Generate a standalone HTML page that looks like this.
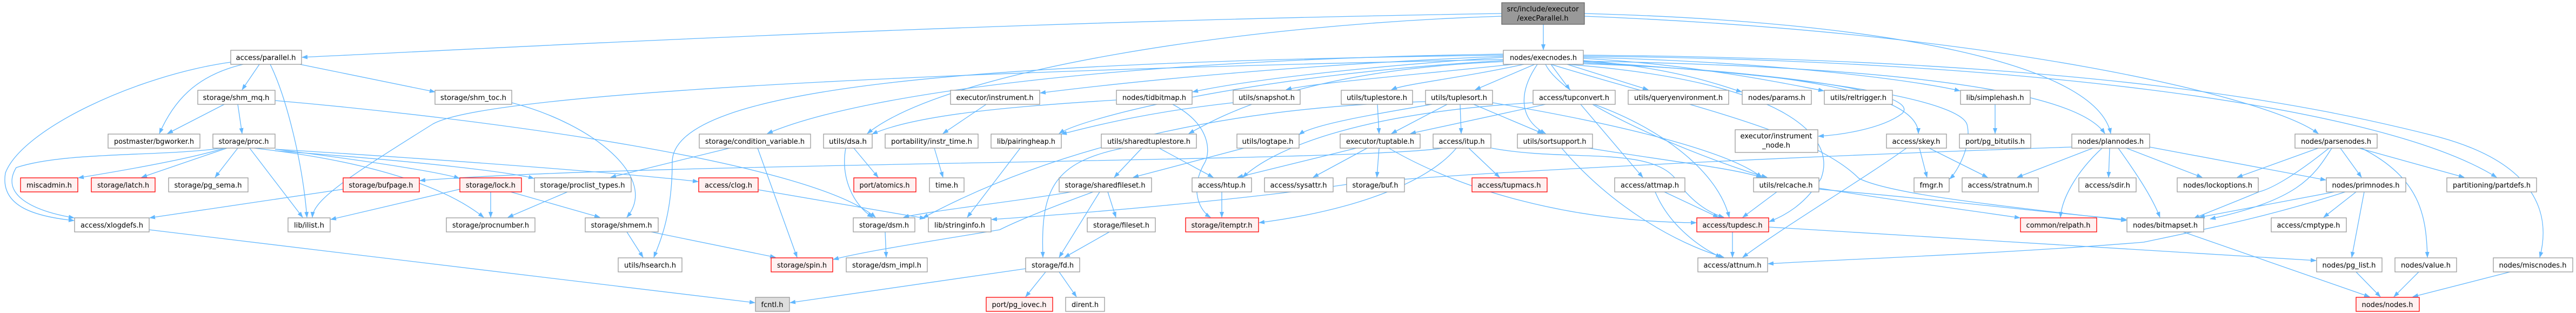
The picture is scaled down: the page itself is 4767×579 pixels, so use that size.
<!DOCTYPE html>
<html><head><meta charset="utf-8"><style>
html,body{margin:0;padding:0;background:#fff;}
svg{display:block}
text{font-family:"DejaVu Sans","Liberation Sans",sans-serif;font-size:13px;fill:#000}
.n{fill:#fff;stroke:#999;stroke-width:1.3}
.r{fill:#fff0f0;stroke:#ff0000;stroke-width:1.3}
.e path{fill:none;stroke:#63b8ff;stroke-width:1.3}
</style></head><body>
<svg width="4767" height="579" viewBox="0 0 4767 579" xmlns="http://www.w3.org/2000/svg">
<defs><marker id="a" markerUnits="userSpaceOnUse" markerWidth="11" markerHeight="8" refX="10" refY="4" orient="auto"><path d="M0,0 L11,4 L0,8 z" fill="#63b8ff"/></marker></defs>
<g class="e" marker-end="url(#a)">
<path marker-end="url(#a)" d="M2856 45 L2856 92"/>
<path marker-end="url(#a)" d="M2779 25 C1800 40 900 90 559 106"/>
<path marker-end="url(#a)" d="M2779 30 C2300 45 1750 130 1605 247"/>
<path marker-end="url(#a)" d="M2932 25 C3500 40 3880 120 3906 247"/>
<path marker-end="url(#a)" d="M2932 30 C3700 60 4200 180 4290 247"/>
<path marker-end="url(#a)" d="M2782 104 C2400 120 2100 150 1925 172"/>
<path marker-end="url(#a)" d="M2782 106 C2500 125 2300 150 2207 170"/>
<path marker-end="url(#a)" d="M2800 119 C2600 140 2420 155 2380 166"/>
<path marker-end="url(#a)" d="M2820 119 C2700 145 2600 155 2575 166"/>
<path marker-end="url(#a)" d="M2840 119 L2730 166"/>
<path marker-end="url(#a)" d="M2870 119 L2905 166"/>
<path marker-end="url(#a)" d="M2900 119 L3050 166"/>
<path marker-end="url(#a)" d="M2930 112 C3100 125 3190 160 3223 170"/>
<path marker-end="url(#a)" d="M2930 108 C3150 120 3330 160 3375 168"/>
<path marker-end="url(#a)" d="M2930 106 C3300 115 3550 150 3627 168"/>
<path marker-end="url(#a)" d="M2845 119 C2810 170 2810 220 2860 247"/>
<path marker-end="url(#a)" d="M2782 100 C2100 110 1600 170 1420 247"/>
<path marker-end="url(#a)" d="M2782 102 C1800 115 1244 160 1244 300 C1244 400 1220 450 1210 476"/>
<path marker-end="url(#a)" d="M2782 110 C1800 130 900 170 800 230 C640 330 580 370 578 402"/>
<path marker-end="url(#a)" d="M2782 112 C2300 140 2000 220 1960 247"/>
<path marker-end="url(#a)" d="M2782 114 C2400 130 2250 220 2200 247"/>
<path marker-end="url(#a)" d="M2930 114 C3500 150 3630 200 3640 230 C3650 270 3620 320 3608 331"/>
<path marker-end="url(#a)" d="M2930 116 C3400 140 3550 180 3520 210 C3480 240 3400 250 3365 252"/>
<path marker-end="url(#a)" d="M2930 118 C3300 130 3550 170 3550 247"/>
<path marker-end="url(#a)" d="M2930 113 C3600 125 3850 180 3895 247"/>
<path marker-end="url(#a)" d="M2930 104 C3700 110 4400 190 4620 328"/>
<path marker-end="url(#a)" d="M2930 102 C3900 110 4300 200 4500 250 C4700 300 4720 400 4700 476"/>
<path marker-end="url(#a)" d="M2900 119 C3300 150 3400 250 3370 330 C3340 380 3300 400 3274 410"/>
<path marker-end="url(#a)" d="M2860 119 C2900 200 3200 310 3270 328"/>
<path marker-end="url(#a)" d="M2870 119 C3100 190 3350 240 3440 330 C3500 360 3700 380 3935 408"/>
<path marker-end="url(#a)" d="M2650 193 C2550 210 2430 230 2404 249"/>
<path marker-end="url(#a)" d="M480 119 L448 166"/>
<path marker-end="url(#a)" d="M450 119 C360 140 320 190 295 247"/>
<path marker-end="url(#a)" d="M427 115 C250 140 40 240 10 320 C0 380 60 400 137 408"/>
<path marker-end="url(#a)" d="M500 119 C530 180 560 300 568 402"/>
<path marker-end="url(#a)" d="M555 119 L805 170"/>
<path marker-end="url(#a)" d="M415 193 L310 247"/>
<path marker-end="url(#a)" d="M440 193 L448 247"/>
<path marker-end="url(#a)" d="M509 186 C900 220 1500 300 1620 402"/>
<path marker-end="url(#a)" d="M415 274 C350 295 200 320 145 329"/>
<path marker-end="url(#a)" d="M420 274 L262 328"/>
<path marker-end="url(#a)" d="M440 274 L398 328"/>
<path marker-end="url(#a)" d="M462 274 L560 402"/>
<path marker-end="url(#a)" d="M410 274 C300 290 120 280 30 310 C0 360 60 390 137 403"/>
<path marker-end="url(#a)" d="M509 276 C700 300 820 320 850 330"/>
<path marker-end="url(#a)" d="M509 279 C800 300 950 320 988 330"/>
<path marker-end="url(#a)" d="M470 274 C700 300 830 350 895 402"/>
<path marker-end="url(#a)" d="M509 276 C900 300 1200 325 1292 336"/>
<path marker-end="url(#a)" d="M1403 351 L1712 404"/>
<path marker-end="url(#a)" d="M908 355 L908 402"/>
<path marker-end="url(#a)" d="M945 355 L1110 402"/>
<path marker-end="url(#a)" d="M851 350 L612 406"/>
<path marker-end="url(#a)" d="M1050 355 L940 402"/>
<path marker-end="url(#a)" d="M947 190 C1100 230 1220 330 1160 402"/>
<path marker-end="url(#a)" d="M1160 429 L1190 476"/>
<path marker-end="url(#a)" d="M1205 429 L1435 476"/>
<path marker-end="url(#a)" d="M1350 274 L1130 328"/>
<path marker-end="url(#a)" d="M1402 274 L1475 476"/>
<path marker-end="url(#a)" d="M1565 274 C1555 330 1580 380 1615 402"/>
<path marker-end="url(#a)" d="M1580 274 L1625 328"/>
<path marker-end="url(#a)" d="M1638 429 L1640 476"/>
<path marker-end="url(#a)" d="M635 350 L277 403"/>
<path marker-end="url(#a)" d="M276 425 L1397 560"/>
<path marker-end="url(#a)" d="M1898 497 L1462 560"/>
<path marker-end="url(#a)" d="M1935 503 L1898 549"/>
<path marker-end="url(#a)" d="M1960 503 L1992 549"/>
<path marker-end="url(#a)" d="M1825 193 L1745 247"/>
<path marker-end="url(#a)" d="M1729 274 L1745 328"/>
<path marker-end="url(#a)" d="M1888 274 L1790 402"/>
<path marker-end="url(#a)" d="M2282 190 C2100 210 2000 240 1964 248"/>
<path marker-end="url(#a)" d="M2066 185 C1900 195 1700 210 1614 248"/>
<path marker-end="url(#a)" d="M2170 193 C2240 230 2240 280 2230 300 C2200 350 2220 390 2240 402"/>
<path marker-end="url(#a)" d="M2078 274 C1950 300 1925 350 1930 476"/>
<path marker-end="url(#a)" d="M2113 274 L2062 328"/>
<path marker-end="url(#a)" d="M2145 274 L2245 328"/>
<path marker-end="url(#a)" d="M2302 274 L2097 328"/>
<path marker-end="url(#a)" d="M1982 355 C1900 370 1720 390 1672 402"/>
<path marker-end="url(#a)" d="M2035 355 L1960 476"/>
<path marker-end="url(#a)" d="M2050 355 L2065 402"/>
<path marker-end="url(#a)" d="M2023 355 C1900 400 1860 420 1850 425 C1700 450 1600 465 1542 480"/>
<path marker-end="url(#a)" d="M2053 429 L1970 476"/>
<path marker-end="url(#a)" d="M2261 355 L2261 402"/>
<path marker-end="url(#a)" d="M2549 193 L2552 247"/>
<path marker-end="url(#a)" d="M2678 193 L2575 247"/>
<path marker-end="url(#a)" d="M2702 193 L2704 247"/>
<path marker-end="url(#a)" d="M2727 193 L2855 247"/>
<path marker-end="url(#a)" d="M2762 190 C3000 230 3200 280 3260 328"/>
<path marker-end="url(#a)" d="M2638 188 C2200 200 1900 300 1708 403"/>
<path marker-end="url(#a)" d="M2860 193 L2610 247"/>
<path marker-end="url(#a)" d="M2925 193 L3040 328"/>
<path marker-end="url(#a)" d="M2950 193 C3080 240 3180 320 3200 402"/>
<path marker-end="url(#a)" d="M2837 190 C2500 210 2350 280 2300 328"/>
<path marker-end="url(#a)" d="M2510 274 L2290 328"/>
<path marker-end="url(#a)" d="M2530 274 L2430 328"/>
<path marker-end="url(#a)" d="M2552 274 L2548 328"/>
<path marker-end="url(#a)" d="M2570 274 C2700 350 2900 410 3139 412"/>
<path marker-end="url(#a)" d="M2718 274 L2775 328"/>
<path marker-end="url(#a)" d="M2760 274 C2900 300 3050 270 3100 330 C3120 360 3150 390 3190 402"/>
<path marker-end="url(#a)" d="M2695 274 C2640 340 2500 390 2330 412"/>
<path marker-end="url(#a)" d="M2670 274 C2500 300 1200 300 777 334"/>
<path marker-end="url(#a)" d="M2890 274 C2980 380 3100 450 3190 476"/>
<path marker-end="url(#a)" d="M2940 274 C3100 300 3200 310 3260 328"/>
<path marker-end="url(#a)" d="M3080 355 L3180 402"/>
<path marker-end="url(#a)" d="M3063 355 C3090 420 3150 460 3185 476"/>
<path marker-end="url(#a)" d="M3206 429 L3206 476"/>
<path marker-end="url(#a)" d="M3273 420 C3800 450 4100 470 4286 482"/>
<path marker-end="url(#a)" d="M3288 355 L3225 402"/>
<path marker-end="url(#a)" d="M3366 348 C3500 370 3650 390 3738 403"/>
<path marker-end="url(#a)" d="M3366 350 C3600 370 3800 395 3935 406"/>
<path marker-end="url(#a)" d="M3552 274 L3566 328"/>
<path marker-end="url(#a)" d="M3570 274 L3678 328"/>
<path marker-end="url(#a)" d="M3528 274 C3450 330 3300 420 3225 476"/>
<path marker-end="url(#a)" d="M3692 193 L3692 247"/>
<path marker-end="url(#a)" d="M3873 274 L3733 328"/>
<path marker-end="url(#a)" d="M3904 274 L3902 328"/>
<path marker-end="url(#a)" d="M3890 274 C3840 320 3815 370 3813 402"/>
<path marker-end="url(#a)" d="M3920 274 C3960 330 3985 370 3997 402"/>
<path marker-end="url(#a)" d="M3935 274 L4075 328"/>
<path marker-end="url(#a)" d="M3978 272 L4304 333"/>
<path marker-end="url(#a)" d="M3834 272 C3300 290 2700 320 2500 340 C2300 370 2000 395 1835 406"/>
<path marker-end="url(#a)" d="M4290 274 L4140 328"/>
<path marker-end="url(#a)" d="M4331 274 L4370 328"/>
<path marker-end="url(#a)" d="M4365 274 L4560 328"/>
<path marker-end="url(#a)" d="M4370 274 C4480 330 4490 400 4492 476"/>
<path marker-end="url(#a)" d="M4310 274 C4240 330 4200 350 4180 355 C4120 380 4080 395 4060 404"/>
<path marker-end="url(#a)" d="M4315 274 C4280 330 4250 370 4090 405"/>
<path marker-end="url(#a)" d="M4320 355 L4070 402"/>
<path marker-end="url(#a)" d="M4360 355 L4300 402"/>
<path marker-end="url(#a)" d="M4375 355 L4352 476"/>
<path marker-end="url(#a)" d="M4340 355 C4200 400 4100 420 3967 448 C3700 470 3400 480 3272 488"/>
<path marker-end="url(#a)" d="M4040 429 L4385 549"/>
<path marker-end="url(#a)" d="M4360 503 L4405 549"/>
<path marker-end="url(#a)" d="M4476 503 L4430 549"/>
<path marker-end="url(#a)" d="M4645 503 L4465 549"/>
</g>
<g>
<rect x="2779" y="5" width="153" height="40" fill="#999" stroke="#666" stroke-width="1.3"/>
<text x="2855" y="21" text-anchor="middle" textLength="133" lengthAdjust="spacingAndGlyphs">src/include/executor</text>
<text x="2855" y="38" text-anchor="middle" textLength="95" lengthAdjust="spacingAndGlyphs">/execParallel.h</text>
<rect x="3211" y="240" width="153" height="42" class="n"/>
<text x="3287" y="256" text-anchor="middle" textLength="133" lengthAdjust="spacingAndGlyphs">executor/instrument</text>
<text x="3287" y="273" text-anchor="middle" textLength="52" lengthAdjust="spacingAndGlyphs">_node.h</text>
</g>
<g>
<rect x="427" y="93" width="131" height="26" class="n"/><text x="492" y="111" text-anchor="middle" textLength="111" lengthAdjust="spacingAndGlyphs">access/parallel.h</text>
<rect x="2782" y="93" width="148" height="26" class="n"/><text x="2856" y="111" text-anchor="middle" textLength="124" lengthAdjust="spacingAndGlyphs">nodes/execnodes.h</text>
<rect x="366" y="167" width="143" height="26" class="n"/><text x="437" y="185" text-anchor="middle" textLength="123" lengthAdjust="spacingAndGlyphs">storage/shm_mq.h</text>
<rect x="805" y="167" width="142" height="26" class="n"/><text x="876" y="185" text-anchor="middle" textLength="122" lengthAdjust="spacingAndGlyphs">storage/shm_toc.h</text>
<rect x="1759" y="167" width="165" height="26" class="n"/><text x="1841" y="185" text-anchor="middle" textLength="143" lengthAdjust="spacingAndGlyphs">executor/instrument.h</text>
<rect x="2066" y="167" width="140" height="26" class="n"/><text x="2136" y="185" text-anchor="middle" textLength="118" lengthAdjust="spacingAndGlyphs">nodes/tidbitmap.h</text>
<rect x="2282" y="167" width="124" height="26" class="n"/><text x="2344" y="185" text-anchor="middle" textLength="104" lengthAdjust="spacingAndGlyphs">utils/snapshot.h</text>
<rect x="2482" y="167" width="132" height="26" class="n"/><text x="2548" y="185" text-anchor="middle" textLength="112" lengthAdjust="spacingAndGlyphs">utils/tuplestore.h</text>
<rect x="2638" y="167" width="124" height="26" class="n"/><text x="2700" y="185" text-anchor="middle" textLength="104" lengthAdjust="spacingAndGlyphs">utils/tuplesort.h</text>
<rect x="2837" y="167" width="152" height="26" class="n"/><text x="2913" y="185" text-anchor="middle" textLength="130" lengthAdjust="spacingAndGlyphs">access/tupconvert.h</text>
<rect x="3013" y="167" width="186" height="26" class="n"/><text x="3106" y="185" text-anchor="middle" textLength="164" lengthAdjust="spacingAndGlyphs">utils/queryenvironment.h</text>
<rect x="3224" y="167" width="128" height="26" class="n"/><text x="3288" y="185" text-anchor="middle" textLength="106" lengthAdjust="spacingAndGlyphs">nodes/params.h</text>
<rect x="3376" y="167" width="126" height="26" class="n"/><text x="3439" y="185" text-anchor="middle" textLength="104" lengthAdjust="spacingAndGlyphs">utils/reltrigger.h</text>
<rect x="3628" y="167" width="129" height="26" class="n"/><text x="3692" y="185" text-anchor="middle" textLength="107" lengthAdjust="spacingAndGlyphs">lib/simplehash.h</text>
<rect x="200" y="248" width="170" height="26" class="n"/><text x="285" y="266" text-anchor="middle" textLength="148" lengthAdjust="spacingAndGlyphs">postmaster/bgworker.h</text>
<rect x="394" y="248" width="115" height="26" class="n"/><text x="451" y="266" text-anchor="middle" textLength="93" lengthAdjust="spacingAndGlyphs">storage/proc.h</text>
<rect x="1294" y="248" width="206" height="26" class="n"/><text x="1397" y="266" text-anchor="middle" textLength="184" lengthAdjust="spacingAndGlyphs">storage/condition_variable.h</text>
<rect x="1524" y="248" width="90" height="26" class="n"/><text x="1569" y="266" text-anchor="middle" textLength="70" lengthAdjust="spacingAndGlyphs">utils/dsa.h</text>
<rect x="1638" y="248" width="172" height="26" class="n"/><text x="1724" y="266" text-anchor="middle" textLength="150" lengthAdjust="spacingAndGlyphs">portability/instr_time.h</text>
<rect x="1834" y="248" width="130" height="26" class="n"/><text x="1899" y="266" text-anchor="middle" textLength="108" lengthAdjust="spacingAndGlyphs">lib/pairingheap.h</text>
<rect x="2038" y="248" width="176" height="26" class="n"/><text x="2126" y="266" text-anchor="middle" textLength="154" lengthAdjust="spacingAndGlyphs">utils/sharedtuplestore.h</text>
<rect x="2289" y="248" width="115" height="26" class="n"/><text x="2346" y="266" text-anchor="middle" textLength="95" lengthAdjust="spacingAndGlyphs">utils/logtape.h</text>
<rect x="2480" y="248" width="148" height="26" class="n"/><text x="2554" y="266" text-anchor="middle" textLength="126" lengthAdjust="spacingAndGlyphs">executor/tuptable.h</text>
<rect x="2652" y="248" width="107" height="26" class="n"/><text x="2705" y="266" text-anchor="middle" textLength="85" lengthAdjust="spacingAndGlyphs">access/itup.h</text>
<rect x="2808" y="248" width="139" height="26" class="n"/><text x="2877" y="266" text-anchor="middle" textLength="117" lengthAdjust="spacingAndGlyphs">utils/sortsupport.h</text>
<rect x="3491" y="248" width="111" height="26" class="n"/><text x="3546" y="266" text-anchor="middle" textLength="89" lengthAdjust="spacingAndGlyphs">access/skey.h</text>
<rect x="3626" y="248" width="132" height="26" class="n"/><text x="3692" y="266" text-anchor="middle" textLength="110" lengthAdjust="spacingAndGlyphs">port/pg_bitutils.h</text>
<rect x="3834" y="248" width="144" height="26" class="n"/><text x="3906" y="266" text-anchor="middle" textLength="122" lengthAdjust="spacingAndGlyphs">nodes/plannodes.h</text>
<rect x="4247" y="248" width="152" height="26" class="n"/><text x="4323" y="266" text-anchor="middle" textLength="130" lengthAdjust="spacingAndGlyphs">nodes/parsenodes.h</text>
<rect x="38" y="329" width="106" height="26" class="r"/><text x="91" y="347" text-anchor="middle" textLength="84" lengthAdjust="spacingAndGlyphs">miscadmin.h</text>
<rect x="169" y="329" width="118" height="26" class="r"/><text x="228" y="347" text-anchor="middle" textLength="96" lengthAdjust="spacingAndGlyphs">storage/latch.h</text>
<rect x="312" y="329" width="147" height="26" class="n"/><text x="385" y="347" text-anchor="middle" textLength="125" lengthAdjust="spacingAndGlyphs">storage/pg_sema.h</text>
<rect x="635" y="329" width="141" height="26" class="r"/><text x="705" y="347" text-anchor="middle" textLength="119" lengthAdjust="spacingAndGlyphs">storage/bufpage.h</text>
<rect x="851" y="329" width="114" height="26" class="r"/><text x="908" y="347" text-anchor="middle" textLength="92" lengthAdjust="spacingAndGlyphs">storage/lock.h</text>
<rect x="989" y="329" width="179" height="26" class="n"/><text x="1078" y="347" text-anchor="middle" textLength="157" lengthAdjust="spacingAndGlyphs">storage/proclist_types.h</text>
<rect x="1293" y="329" width="110" height="26" class="r"/><text x="1348" y="347" text-anchor="middle" textLength="88" lengthAdjust="spacingAndGlyphs">access/clog.h</text>
<rect x="1580" y="329" width="115" height="26" class="r"/><text x="1637" y="347" text-anchor="middle" textLength="93" lengthAdjust="spacingAndGlyphs">port/atomics.h</text>
<rect x="1720" y="329" width="64" height="26" class="n"/><text x="1752" y="347" text-anchor="middle" textLength="42" lengthAdjust="spacingAndGlyphs">time.h</text>
<rect x="1960" y="329" width="171" height="26" class="n"/><text x="2045" y="347" text-anchor="middle" textLength="149" lengthAdjust="spacingAndGlyphs">storage/sharedfileset.h</text>
<rect x="2206" y="329" width="110" height="26" class="n"/><text x="2261" y="347" text-anchor="middle" textLength="88" lengthAdjust="spacingAndGlyphs">access/htup.h</text>
<rect x="2340" y="329" width="127" height="26" class="n"/><text x="2403" y="347" text-anchor="middle" textLength="105" lengthAdjust="spacingAndGlyphs">access/sysattr.h</text>
<rect x="2492" y="329" width="107" height="26" class="n"/><text x="2545" y="347" text-anchor="middle" textLength="85" lengthAdjust="spacingAndGlyphs">storage/buf.h</text>
<rect x="2724" y="329" width="139" height="26" class="r"/><text x="2793" y="347" text-anchor="middle" textLength="117" lengthAdjust="spacingAndGlyphs">access/tupmacs.h</text>
<rect x="2988" y="329" width="130" height="26" class="n"/><text x="3053" y="347" text-anchor="middle" textLength="108" lengthAdjust="spacingAndGlyphs">access/attmap.h</text>
<rect x="3245" y="329" width="121" height="26" class="n"/><text x="3305" y="347" text-anchor="middle" textLength="99" lengthAdjust="spacingAndGlyphs">utils/relcache.h</text>
<rect x="3542" y="329" width="65" height="26" class="n"/><text x="3574" y="347" text-anchor="middle" textLength="43" lengthAdjust="spacingAndGlyphs">fmgr.h</text>
<rect x="3631" y="329" width="141" height="26" class="n"/><text x="3701" y="347" text-anchor="middle" textLength="119" lengthAdjust="spacingAndGlyphs">access/stratnum.h</text>
<rect x="3847" y="329" width="106" height="26" class="n"/><text x="3900" y="347" text-anchor="middle" textLength="84" lengthAdjust="spacingAndGlyphs">access/sdir.h</text>
<rect x="4029" y="329" width="150" height="26" class="n"/><text x="4104" y="347" text-anchor="middle" textLength="128" lengthAdjust="spacingAndGlyphs">nodes/lockoptions.h</text>
<rect x="4305" y="329" width="147" height="26" class="n"/><text x="4378" y="347" text-anchor="middle" textLength="125" lengthAdjust="spacingAndGlyphs">nodes/primnodes.h</text>
<rect x="4528" y="329" width="166" height="26" class="n"/><text x="4611" y="347" text-anchor="middle" textLength="144" lengthAdjust="spacingAndGlyphs">partitioning/partdefs.h</text>
<rect x="138" y="403" width="138" height="26" class="n"/><text x="207" y="421" text-anchor="middle" textLength="116" lengthAdjust="spacingAndGlyphs">access/xlogdefs.h</text>
<rect x="533" y="403" width="78" height="26" class="n"/><text x="572" y="421" text-anchor="middle" textLength="56" lengthAdjust="spacingAndGlyphs">lib/ilist.h</text>
<rect x="826" y="403" width="164" height="26" class="n"/><text x="908" y="421" text-anchor="middle" textLength="142" lengthAdjust="spacingAndGlyphs">storage/procnumber.h</text>
<rect x="1083" y="403" width="135" height="26" class="n"/><text x="1150" y="421" text-anchor="middle" textLength="113" lengthAdjust="spacingAndGlyphs">storage/shmem.h</text>
<rect x="1579" y="403" width="114" height="26" class="n"/><text x="1636" y="421" text-anchor="middle" textLength="92" lengthAdjust="spacingAndGlyphs">storage/dsm.h</text>
<rect x="1718" y="403" width="116" height="26" class="n"/><text x="1776" y="421" text-anchor="middle" textLength="94" lengthAdjust="spacingAndGlyphs">lib/stringinfo.h</text>
<rect x="2012" y="403" width="126" height="26" class="n"/><text x="2075" y="421" text-anchor="middle" textLength="104" lengthAdjust="spacingAndGlyphs">storage/fileset.h</text>
<rect x="2194" y="403" width="135" height="26" class="r"/><text x="2261" y="421" text-anchor="middle" textLength="113" lengthAdjust="spacingAndGlyphs">storage/itemptr.h</text>
<rect x="3140" y="403" width="133" height="26" class="r"/><text x="3206" y="421" text-anchor="middle" textLength="111" lengthAdjust="spacingAndGlyphs">access/tupdesc.h</text>
<rect x="3739" y="403" width="141" height="26" class="r"/><text x="3809" y="421" text-anchor="middle" textLength="119" lengthAdjust="spacingAndGlyphs">common/relpath.h</text>
<rect x="3936" y="403" width="142" height="26" class="n"/><text x="4007" y="421" text-anchor="middle" textLength="120" lengthAdjust="spacingAndGlyphs">nodes/bitmapset.h</text>
<rect x="4203" y="403" width="139" height="26" class="n"/><text x="4272" y="421" text-anchor="middle" textLength="117" lengthAdjust="spacingAndGlyphs">access/cmptype.h</text>
<rect x="1144" y="477" width="118" height="26" class="n"/><text x="1203" y="495" text-anchor="middle" textLength="96" lengthAdjust="spacingAndGlyphs">utils/hsearch.h</text>
<rect x="1427" y="477" width="114" height="26" class="r"/><text x="1484" y="495" text-anchor="middle" textLength="92" lengthAdjust="spacingAndGlyphs">storage/spin.h</text>
<rect x="1566" y="477" width="150" height="26" class="n"/><text x="1641" y="495" text-anchor="middle" textLength="128" lengthAdjust="spacingAndGlyphs">storage/dsm_impl.h</text>
<rect x="1898" y="477" width="100" height="26" class="n"/><text x="1948" y="495" text-anchor="middle" textLength="78" lengthAdjust="spacingAndGlyphs">storage/fd.h</text>
<rect x="3142" y="477" width="129" height="26" class="n"/><text x="3206" y="495" text-anchor="middle" textLength="107" lengthAdjust="spacingAndGlyphs">access/attnum.h</text>
<rect x="4287" y="477" width="121" height="26" class="n"/><text x="4347" y="495" text-anchor="middle" textLength="99" lengthAdjust="spacingAndGlyphs">nodes/pg_list.h</text>
<rect x="4432" y="477" width="114" height="26" class="n"/><text x="4489" y="495" text-anchor="middle" textLength="92" lengthAdjust="spacingAndGlyphs">nodes/value.h</text>
<rect x="4614" y="477" width="147" height="26" class="n"/><text x="4687" y="495" text-anchor="middle" textLength="125" lengthAdjust="spacingAndGlyphs">nodes/miscnodes.h</text>
<rect x="1398" y="550" width="63" height="26" fill="#dddddd" stroke="#999" stroke-width="1.3"/><text x="1429" y="568" text-anchor="middle" textLength="41" lengthAdjust="spacingAndGlyphs">fcntl.h</text>
<rect x="1825" y="550" width="123" height="26" class="r"/><text x="1886" y="568" text-anchor="middle" textLength="101" lengthAdjust="spacingAndGlyphs">port/pg_iovec.h</text>
<rect x="1972" y="550" width="72" height="26" class="n"/><text x="2008" y="568" text-anchor="middle" textLength="50" lengthAdjust="spacingAndGlyphs">dirent.h</text>
<rect x="4360" y="550" width="117" height="26" class="r"/><text x="4418" y="568" text-anchor="middle" textLength="95" lengthAdjust="spacingAndGlyphs">nodes/nodes.h</text>
</g>
</svg>
</body></html>
